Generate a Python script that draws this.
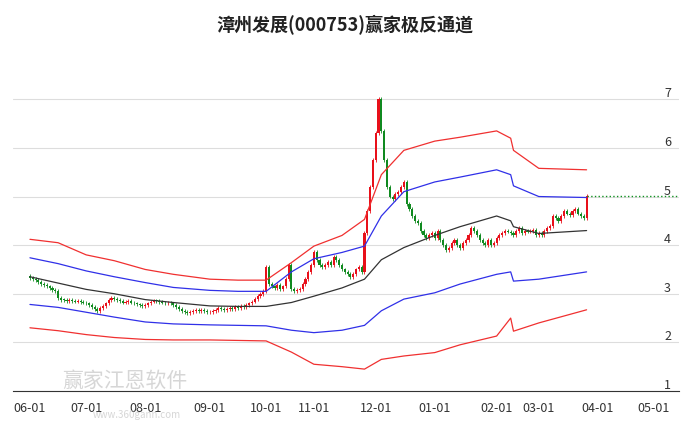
import numpy as np, pandas as pd, seaborn as sns
import matplotlib
matplotlib.use("Agg")
import matplotlib.pyplot as plt

sns.set_style("white")
plt.rcParams['font.family'] = ['Noto Sans CJK SC', 'DejaVu Sans']

title = "漳州发展(000753)赢家极反通道"
close_jun = [3.33,3.3,3.28,3.25,3.2,3.18,3.15,3.12,3.08,3.05,2.92,2.88,2.87,2.86,2.88,2.86,2.84,2.85,2.83,2.82]
close_jul = [2.8,2.76,2.72,2.68,2.65,2.7,2.75,2.8,2.88,2.92,2.9,2.88,2.85,2.82,2.83,2.86,2.82,2.8,2.78,2.76,2.74]
close_aug = [2.76,2.8,2.84,2.86,2.85,2.83,2.82,2.8,2.82,2.8,2.76,2.72,2.68,2.64,2.62,2.6,2.62,2.64,2.66,2.65,2.66,2.64,2.62]
close_sep = [2.62,2.64,2.66,2.7,2.68,2.66,2.68,2.7,2.69,2.72,2.7,2.74,2.73,2.76,2.8,2.84,2.9,2.95,3.0,3.05]
close_oct = [3.55,3.2,3.15,3.12,3.18,3.1,3.15,3.3,3.6,3.1,3.05,3.08,3.1,3.2,3.3,3.45,3.6]
close_nov = [3.85,3.7,3.6,3.55,3.6,3.65,3.6,3.75,3.7,3.6,3.5,3.45,3.4,3.35,3.4,3.5,3.55,3.45,4.25,4.7,5.2,5.75]
close_dec = [6.3,7.0,6.35,5.75,5.2,5.0,4.95,5.05,5.1,5.2,5.3,4.85,4.75,4.6,4.5,4.45,4.3,4.2,4.15,4.2,4.25]
close_jan = [4.15,4.3,4.1,4.0,3.9,3.95,4.05,4.1,4.0,3.95,4.05,4.1,4.2,4.35,4.3,4.2,4.1,4.05,4.0,4.1,4.0,4.05]
close_feb = [4.15,4.2,4.25,4.3,4.28,4.25,4.2,4.3,4.35,4.25,4.3,4.28,4.3,4.32,4.2]
close_mar = [4.25,4.2,4.3,4.35,4.4,4.6,4.55,4.5,4.6,4.7,4.65,4.62,4.7,4.75,4.65,4.6,4.55,5.02]

node_dates = ["2023-06-01","2023-06-15","2023-07-01","2023-07-15","2023-08-01","2023-08-15","2023-09-01","2023-09-15",
              "2023-10-01","2023-10-20","2023-11-01","2023-11-15","2023-11-25",
              "2023-12-05","2023-12-15","2024-01-01","2024-01-15","2024-02-01","2024-02-08","2024-02-15","2024-03-01","2024-03-26"]
upper_red  = [4.12,4.05,3.8,3.68,3.5,3.4,3.3,3.28,3.28,3.64,3.98,4.2,4.53,5.45,5.95,6.14,6.22,6.35,6.2,5.95,5.58,5.55]
upper_blue = [3.74,3.62,3.47,3.35,3.23,3.13,3.07,3.05,3.05,3.45,3.72,3.85,3.98,4.6,5.1,5.3,5.4,5.55,5.45,5.22,5.0,4.98]
middle     = [3.35,3.22,3.09,3.0,2.88,2.82,2.75,2.74,2.74,2.82,2.95,3.12,3.3,3.7,3.95,4.2,4.38,4.6,4.5,4.38,4.24,4.3]
lower_blue = [2.78,2.72,2.62,2.52,2.42,2.38,2.36,2.35,2.34,2.25,2.2,2.25,2.35,2.65,2.89,3.02,3.2,3.4,3.45,3.26,3.3,3.45]
lower_red  = [2.3,2.24,2.16,2.1,2.06,2.05,2.05,2.04,2.03,1.8,1.55,1.5,1.45,1.65,1.72,1.79,1.95,2.13,2.5,2.23,2.4,2.67]
month_labels = ["06-01","07-01","08-01","09-01","10-01","11-01","12-01","01-01","02-01","03-01","04-01","05-01"]

closes = close_jun+close_jul+close_aug+close_sep+close_oct+close_nov+close_dec+close_jan+close_feb+close_mar
hol = pd.to_datetime(["2023-06-22","2023-06-23","2023-09-29","2023-10-02","2023-10-03","2023-10-04","2023-10-05","2023-10-06",
                      "2024-01-01","2024-02-09","2024-02-12","2024-02-13","2024-02-14","2024-02-15","2024-02-16",
                      "2024-04-04","2024-04-05"])
cal = pd.bdate_range("2023-06-01","2024-05-10")
cal = cal[~cal.isin(hol)]
days = cal[:len(closes)]
c = np.array(closes); o = np.r_[c[0]+0.03, c[:-1]]
idx = np.arange(len(c))

fig = plt.figure(figsize=(6.89,4.27), dpi=100)
ax = fig.add_axes([0.019,0.082,0.967,0.74])
for x, op, cl in zip(idx, o, c):
    col = "#e8101a" if cl >= op else "#108a20"
    lo, hi = min(op,cl), max(op,cl)
    ax.vlines(x, lo-0.04, hi+0.04, color=col, lw=0.6)
    ax.bar(x, max(hi-lo,0.015), bottom=lo, width=0.75, color=col, lw=0)

nd = pd.to_datetime(node_dates)
ni = [cal.searchsorted(d) for d in nd]
lines = pd.DataFrame({"i":ni*5,
    "v":upper_red+upper_blue+middle+lower_blue+lower_red,
    "s":sum([[k]*len(ni) for k in ["ur","ub","m","lb","lr"]],[])})
sns.lineplot(data=lines, x="i", y="v", hue="s", palette={"ur":"#f03030","ub":"#3030e8","m":"#333333","lb":"#3030e8","lr":"#f03030"},
             ax=ax, legend=False, lw=0.9)
ax.plot([idx[-1], 232], [c[-1], c[-1]], ls=":", color="#109020", lw=1)

mt = pd.date_range("2023-06-01","2024-05-01",freq="MS")
ax.set_xlim(-6, 231)
ax.set_ylim(1, 7.5)
ax.yaxis.tick_right()
ax.set_yticks(range(1,8))
ax.grid(axis="y", color="#dddddd", lw=0.8)
ax.tick_params(axis="y", length=0, labelsize=9, colors="#333333", pad=-6)
for lab in ax.get_yticklabels():
    lab.set_verticalalignment("bottom"); lab.set_horizontalalignment("right")
ax.set_xticks([cal.searchsorted(d) for d in mt])
ax.set_xticklabels(month_labels, fontsize=9, color="#333333")
ax.tick_params(axis="x", length=4, color="#333333")
for s in ["top","right","left"]:
    ax.spines[s].set_visible(False)
ax.spines["bottom"].set_color("#333333")
ax.set_xlabel(""); ax.set_ylabel("")
fig.text(0.09,0.095,"赢家江恩软件", fontsize=15, color="#bbbbbb", alpha=0.6)
fig.text(0.135,0.02,"www.360gann.com", fontsize=7, color="#bbbbbb", alpha=0.6)
fig.suptitle(title, y=0.965, fontsize=13, fontweight="bold", color="#222222")
fig.savefig("out.png", dpi=100)
